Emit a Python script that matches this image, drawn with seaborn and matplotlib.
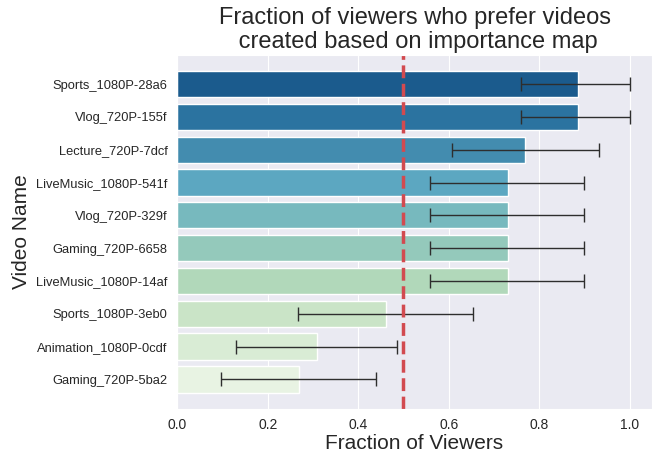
import numpy as np
import pandas as pd
import seaborn as sns
import matplotlib
matplotlib.use('Agg')
import matplotlib.pyplot as plt

videos = ['Sports_1080P-28a6', 'Vlog_720P-155f', 'Lecture_720P-7dcf',
          'LiveMusic_1080P-541f', 'Vlog_720P-329f', 'Gaming_720P-6658',
          'LiveMusic_1080P-14af', 'Sports_1080P-3eb0', 'Animation_1080P-0cdf',
          'Gaming_720P-5ba2']
fraction = [0.885, 0.885, 0.769, 0.731, 0.731, 0.731, 0.731, 0.462, 0.308, 0.269]
ci_low = [0.760, 0.760, 0.607, 0.558, 0.558, 0.558, 0.558, 0.268, 0.129, 0.097]
ci_high = [1.000, 1.000, 0.932, 0.900, 0.900, 0.900, 0.900, 0.654, 0.485, 0.440]

df = pd.DataFrame({'video': videos, 'fraction': fraction,
                   'low': ci_low, 'high': ci_high})

sns.set_style('darkgrid')
plt.rcParams['font.family'] = ['Liberation Sans', 'DejaVu Sans']

fig = plt.figure(figsize=(6.59, 4.54), dpi=100)
ax = fig.add_axes([0.269, 0.1, 0.72, 0.779])

sns.barplot(df, x='fraction', y='video', hue='video', palette='GnBu_r',
            legend=False, ax=ax, edgecolor='white', linewidth=1)

ypos = np.arange(len(df))
ax.errorbar(df['fraction'], ypos,
            xerr=[df['fraction'] - df['low'], df['high'] - df['fraction']],
            fmt='none', ecolor='#2e2e2e', elinewidth=1, capsize=5, capthick=1)

ax.axvline(0.5, color='#d24a50', linestyle='--', linewidth=2.5)

ax.set_xlim(0, 1.049)
ax.set_title('Fraction of viewers who prefer videos\n created based on importance map',
             fontsize=17, linespacing=1.1, pad=5)
ax.set_xlabel('Fraction of Viewers', fontsize=15, labelpad=1)
ax.set_ylabel('Video Name', fontsize=15)
ax.tick_params(axis='y', labelsize=9.3)
ax.tick_params(axis='x', labelsize=10)

fig.savefig('out.png', dpi=100)
